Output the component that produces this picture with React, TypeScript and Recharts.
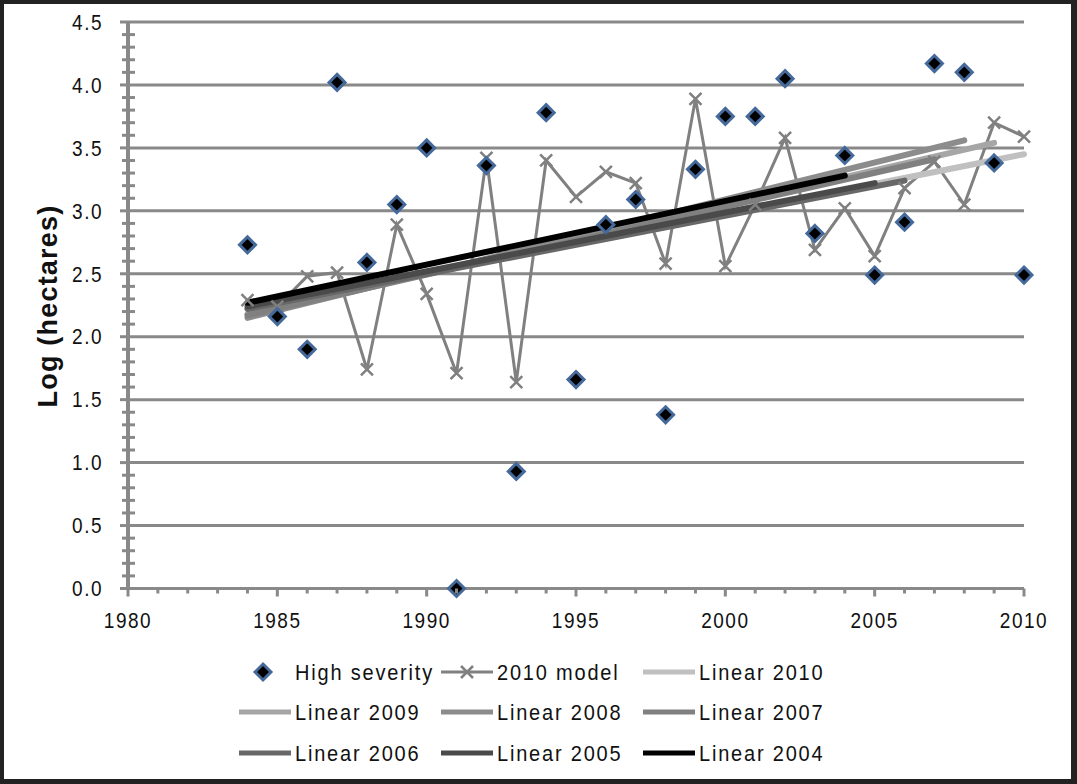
import React from 'react';
import { ComposedChart, Line, Scatter, XAxis, YAxis, CartesianGrid } from 'recharts';

const years = [1984, 1985, 1986, 1987, 1988, 1989, 1990, 1991, 1992, 1993, 1994, 1995, 1996, 1997, 1998, 1999, 2000, 2001, 2002, 2003, 2004, 2005, 2006, 2007, 2008, 2009, 2010];
const highSeverity = [2.73, 2.16, 1.9, 4.02, 2.59, 3.05, 3.5, 0.0, 3.36, 0.93, 3.78, 1.66, 2.89, 3.09, 1.38, 3.33, 3.75, 3.75, 4.05, 2.82, 3.44, 2.49, 2.91, 4.17, 4.1, 3.38, 2.49];
const model2010 = [2.29, 2.24, 2.48, 2.51, 1.74, 2.89, 2.34, 1.71, 3.42, 1.64, 3.4, 3.11, 3.31, 3.22, 2.58, 3.89, 2.56, 3.05, 3.58, 2.69, 3.02, 2.64, 3.18, 3.39, 3.05, 3.7, 3.59];

// trend lines: fitted from 1984 up to their end year (endpoints)
const trendNames = ['Linear 2010', 'Linear 2009', 'Linear 2008', 'Linear 2007', 'Linear 2006', 'Linear 2005', 'Linear 2004'];
const trendEndYears = [2010, 2009, 2008, 2007, 2006, 2005, 2004];
const trendStart = [2.22, 2.18, 2.15, 2.17, 2.22, 2.24, 2.27];
const trendEnd = [3.45, 3.54, 3.56, 3.41, 3.24, 3.22, 3.28];
const trendColors = ['#c0c0c0', '#a6a6a6', '#8c8c8c', '#808080', '#686868', '#4a4a4a', '#000000'];

const xTicks = Array.from({ length: 31 }, (_, i) => 1980 + i);
const yTicks = Array.from({ length: 46 }, (_, i) => i / 10);
const yGrid = [0, 0.5, 1, 1.5, 2, 2.5, 3, 3.5, 4, 4.5];

const GRID = '#898989';
const FONT = '"Liberation Sans", Arial, sans-serif';

const severityData = years.map((year, i) => ({ year, v: highSeverity[i] }));
const modelData = years.map((year, i) => ({ year, v: model2010[i] }));
const trendData = trendNames.map((_, i) => [
  { year: 1984, v: trendStart[i] },
  { year: trendEndYears[i], v: trendEnd[i] },
]);

// text a little taller than wide, like the original export
const Label = ({ x, y, anchor, size, spacing, children }: any) => (
  <text
    transform={`translate(${x},${y}) scale(1,1.13)`}
    dy="0.36em"
    textAnchor={anchor}
    fontSize={size}
    letterSpacing={spacing}
    fill="#111"
    fontFamily={FONT}
  >
    {children}
  </text>
);

const YTick = (props: any) => {
  const { x, y, payload } = props;
  const v = payload.value;
  const major = Math.abs(v * 2 - Math.round(v * 2)) < 1e-6;
  if (!major) {
    return <line x1={x - 6} x2={x + 7} y1={y} y2={y} stroke={GRID} strokeWidth={3} />;
  }
  return (
    <g>
      <line x1={x - 8} x2={x} y1={y} y2={y} stroke={GRID} strokeWidth={3} />
      <Label x={x - 25} y={y} anchor="end" size={19} spacing={1.5}>
        {v.toFixed(1)}
      </Label>
    </g>
  );
};

const XTick = (props: any) => {
  const { x, y, payload } = props;
  const v = payload.value;
  const major = v % 5 === 0;
  return (
    <g>
      <line x1={x} x2={x} y1={y} y2={y + (major ? 8 : 5)} stroke={GRID} strokeWidth={3} />
      {major && (
        <Label x={x} y={y + 32} anchor="middle" size={19} spacing={1.5}>
          {v}
        </Label>
      )}
    </g>
  );
};

const Diamond = (props: any) => {
  const { cx, cy } = props;
  const r = 8;
  return (
    <path
      d={`M${cx},${cy - r}L${cx + r},${cy}L${cx},${cy + r}L${cx - r},${cy}Z`}
      fill="#000"
      stroke="#44699a"
      strokeWidth={3}
    />
  );
};

const Cross = (props: any) => {
  const { cx, cy, index } = props;
  const r = 6;
  return (
    <path
      key={`c-${index}`}
      d={`M${cx - r},${cy - r}L${cx + r},${cy + r}M${cx - r},${cy + r}L${cx + r},${cy - r}`}
      stroke="#808080"
      strokeWidth={2.5}
      fill="none"
    />
  );
};

const YTitle = () => (
  <text
    x={48}
    y={306}
    transform="rotate(-90, 48, 306)"
    textAnchor="middle"
    dominantBaseline="central"
    fontSize={27}
    fontWeight="bold"
    letterSpacing={1.2}
    fill="#111"
    fontFamily={FONT}
  >
    Log (hectares)
  </text>
);

// legend layout: text start x per column, row centres
const legendCols = [295, 497, 699];
const legendRows = [672, 712, 753];

const LegendBox = () => {
  const items = [
    { name: 'High severity', kind: 'diamond', color: '#000' },
    { name: '2010 model', kind: 'model', color: '#808080' },
    ...trendNames.map((n, i) => ({ name: n, kind: 'line', color: trendColors[i] })),
  ];
  return (
    <svg width={1077} height={784} style={{ position: 'absolute', left: 0, top: 0, pointerEvents: 'none' }}>
      {items.map((it, i) => {
        const tx = legendCols[i % 3];
        const ty = legendRows[Math.floor(i / 3)];
        return (
          <g key={it.name}>
            {it.kind === 'diamond' && <Diamond cx={263} cy={ty} />}
            {it.kind !== 'diamond' && (
              <line x1={tx - 56} x2={tx - 4} y1={ty} y2={ty} stroke={it.color} strokeWidth={it.kind === 'model' ? 3 : 5} />
            )}
            {it.kind === 'model' && <Cross cx={tx - 30} cy={ty} index={0} />}
            <Label x={tx} y={ty} anchor="start" size={20} spacing={1.8}>
              {it.name}
            </Label>
          </g>
        );
      })}
    </svg>
  );
};

export default function App() {
  return (
    <div style={{ position: 'relative', width: 1077, height: 784, background: '#222' }}>
      <style>{'body{margin:0}'}</style>
      <div style={{ position: 'absolute', left: 4, top: 4, width: 1067, height: 775, background: '#fff' }} />
      <div style={{ position: 'absolute', left: 0, top: 0 }}>
        <ComposedChart width={1077} height={784} margin={{ top: 22, right: 53, left: 0, bottom: 155.5 }}>
          <CartesianGrid horizontal vertical={false} horizontalValues={yGrid} stroke={GRID} strokeWidth={3} />
          <XAxis
            type="number"
            dataKey="year"
            domain={[1980, 2010]}
            ticks={xTicks}
            interval={0}
            tickSize={0}
            tickMargin={0}
            tick={<XTick />}
            tickLine={false}
            height={40}
            axisLine={{ stroke: GRID, strokeWidth: 3 }}
            allowDecimals={false}
          />
          <YAxis
            type="number"
            domain={[0, 4.5]}
            ticks={yTicks}
            interval={0}
            tickSize={0}
            tickMargin={0}
            tick={<YTick />}
            tickLine={false}
            width={128}
            axisLine={{ stroke: GRID, strokeWidth: 4 }}
            label={<YTitle />}
          />
          <Line
            data={modelData}
            dataKey="v"
            stroke="#808080"
            strokeWidth={3}
            dot={<Cross />}
            activeDot={false}
            isAnimationActive={false}
          />
          {trendNames.map((n, i) => (
            <Line
              key={n}
              data={trendData[i]}
              dataKey="v"
              stroke={trendColors[i]}
              strokeWidth={6}
              strokeLinecap="round"
              dot={false}
              activeDot={false}
              isAnimationActive={false}
            />
          ))}
          <Scatter data={severityData} dataKey="v" shape={<Diamond />} isAnimationActive={false} />
        </ComposedChart>
      </div>
      <LegendBox />
    </div>
  );
}
